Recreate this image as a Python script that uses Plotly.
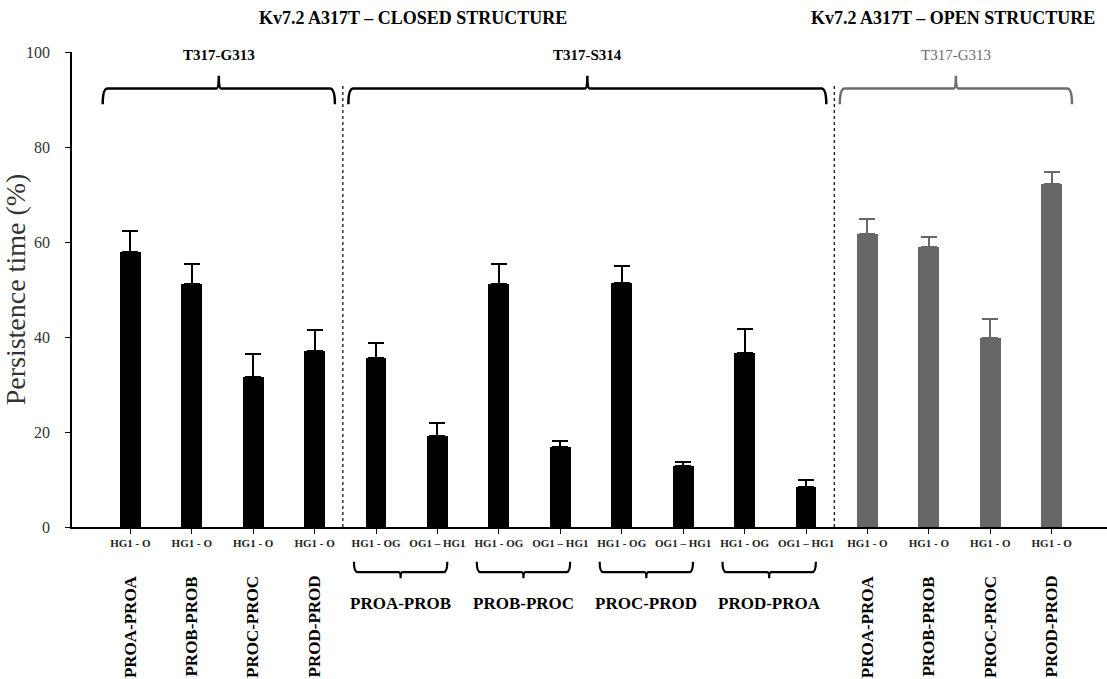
import numpy as np
import plotly.graph_objects as go

# ---------------- data ----------------
closed_g313_labels = ["PROA-PROA", "PROB-PROB", "PROC-PROC", "PROD-PROD"]
closed_g313_sub = ["HG1 - O", "HG1 - O", "HG1 - O", "HG1 - O"]
closed_g313_mean = [57.8, 51.2, 31.5, 37.0]
closed_g313_err = [4.5, 4.2, 4.9, 4.5]

s314_pairs = ["PROA-PROB", "PROB-PROC", "PROC-PROD", "PROD-PROA"]
s314_sub = ["HG1 - OG", "OG1 – HG1"]
s314_hg1_og_mean = [35.6, 51.2, 51.4, 36.6]
s314_hg1_og_err = [3.1, 4.2, 3.6, 5.1]
s314_og1_hg1_mean = [19.2, 16.9, 12.9, 8.5]
s314_og1_hg1_err = [2.6, 1.2, 0.8, 1.5]

open_g313_labels = ["PROA-PROA", "PROB-PROB", "PROC-PROC", "PROD-PROD"]
open_g313_sub = ["HG1 - O", "HG1 - O", "HG1 - O", "HG1 - O"]
open_g313_mean = [61.7, 58.9, 39.7, 72.2]
open_g313_err = [3.1, 2.2, 4.1, 2.5]

y_ticks = [0, 20, 40, 60, 80, 100]

# ---------------- positions ----------------
n1 = len(closed_g313_mean)
n2 = 2 * len(s314_pairs)
n3 = len(open_g313_mean)
x1 = np.arange(n1)
x2 = np.arange(n1, n1 + n2)
x3 = np.arange(n1 + n2, n1 + n2 + n3)

closed_x = np.concatenate([x1, x2])
closed_mean = list(closed_g313_mean)
closed_err = list(closed_g313_err)
s314_ticks = []
for a, b, ea, eb in zip(s314_hg1_og_mean, s314_og1_hg1_mean, s314_hg1_og_err, s314_og1_hg1_err):
    closed_mean += [a, b]
    closed_err += [ea, eb]
    s314_ticks += s314_sub

tickvals = list(np.concatenate([x1, x2, x3]))
ticktext = ["<b>%s</b>" % t for t in closed_g313_sub + s314_ticks + open_g313_sub]

SERIF = "Liberation Serif, Times New Roman, serif"
BLACK = "#000000"
GREY = "#676767"
GREY_T = "#6e6e6e"

fig = go.Figure()
fig.add_trace(go.Bar(
    x=closed_x, y=closed_mean, width=0.34,
    marker=dict(color=BLACK, line=dict(width=0)),
    error_y=dict(type="data", array=closed_err, arrayminus=[0] * len(closed_err),
                 symmetric=False, color=BLACK, thickness=2, width=8),
    showlegend=False,
))
fig.add_trace(go.Bar(
    x=x3, y=open_g313_mean, width=0.34,
    marker=dict(color=GREY, line=dict(width=0)),
    error_y=dict(type="data", array=open_g313_err, arrayminus=[0] * n3,
                 symmetric=False, color=GREY, thickness=2, width=8),
    showlegend=False,
))


def brace(x0, xend, yb, yh, yp, r):
    xc = (x0 + xend) / 2
    return (f"M{x0},{yb} Q{x0},{yh} {x0 + r},{yh} L{xc - r / 2},{yh} "
            f"Q{xc},{yh} {xc},{yp} Q{xc},{yh} {xc + r / 2},{yh} "
            f"L{xend - r},{yh} Q{xend},{yh} {xend},{yb}")


shapes = []
annotations = []

# top braces
top_groups = [(x1, "T317-G313", BLACK, True), (x2, "T317-S314", BLACK, True), (x3, "T317-G313", GREY_T, False)]
for xs, lab, col, bold in top_groups:
    a, b = xs[0] - 0.45, xs[-1] + 0.33
    shapes.append(dict(type="path", xref="x", yref="y",
                       path=brace(a, b, 89.0, 92.3, 95.0, 0.08),
                       line=dict(color=col, width=2.5)))
    annotations.append(dict(x=(a + b) / 2, y=99.3, xref="x", yref="y",
                            text=("<b>%s</b>" % lab) if bold else lab, showarrow=False,
                            font=dict(family=SERIF, size=15, color=col),
                            yanchor="middle", xanchor="center"))

# dashed separators
for xs_a, xs_b in [(x1, x2), (x2, x3)]:
    xm = (xs_a[-1] + xs_b[0]) / 2 - 0.04
    shapes.append(dict(type="line", xref="x", yref="y", x0=xm, x1=xm, y0=0, y1=93.5,
                       line=dict(color=BLACK, width=1.2, dash="dot")))

# titles
annotations.append(dict(x=4.6, y=1.0716, xref="x", yref="paper",
                        text="<b>Kv7.2 A317T – CLOSED STRUCTURE</b>", showarrow=False,
                        yanchor="middle", xanchor="center",
                        font=dict(family=SERIF, size=18, color=BLACK)))
annotations.append(dict(x=13.4, y=1.0716, xref="x", yref="paper",
                        text="<b>Kv7.2 A317T – OPEN STRUCTURE</b>", showarrow=False,
                        yanchor="middle", xanchor="center",
                        font=dict(family=SERIF, size=18, color=BLACK)))

# rotated bottom labels
for xs, labs in [(x1, closed_g313_labels), (x3, open_g313_labels)]:
    for xv, lab in zip(xs, labs):
        annotations.append(dict(x=xv, y=-0.21, xref="x", yref="paper", text="<b>%s</b>" % lab,
                                textangle=-90, showarrow=False, yanchor="middle", xanchor="center",
                                font=dict(family=SERIF, size=17, color=BLACK)))

# bottom braces + pair labels
for i, lab in enumerate(s314_pairs):
    c = (x2[2 * i] + x2[2 * i + 1]) / 2 - 0.1
    a, b = c - 0.76, c + 0.76
    shapes.append(dict(type="path", xref="x", yref="paper",
                       path=brace(a, b, -0.073, -0.095, -0.108, 0.06),
                       line=dict(color=BLACK, width=2.2)))
    annotations.append(dict(x=c, y=-0.162, xref="x", yref="paper", text="<b>%s</b>" % lab,
                            showarrow=False, yanchor="middle", xanchor="center",
                            font=dict(family=SERIF, size=17, color=BLACK)))

fig.update_layout(
    width=1107, height=679,
    margin=dict(l=72, r=0, t=52, b=152),
    paper_bgcolor="white", plot_bgcolor="white",
    shapes=shapes, annotations=annotations,
    bargap=0,
    xaxis=dict(range=[-0.95, 15.9], tickvals=tickvals, ticktext=ticktext,
               showline=True, linecolor=BLACK, linewidth=1.5, ticks="outside",
               ticklen=5, tickcolor=BLACK, tickwidth=1.2, showgrid=False, zeroline=False,
               tickangle=0,
               tickfont=dict(family=SERIF, size=11, color="#222")),
    yaxis=dict(range=[0, 100], tickvals=y_ticks, showline=True, linecolor=BLACK, linewidth=1.5,
               ticks="outside", ticklen=5, tickcolor=BLACK, tickwidth=1.2,
               ticklabelstandoff=12,
               showgrid=False, zeroline=False,
               tickfont=dict(family=SERIF, size=16, color="#333"),
               title=dict(text="Persistence time (%)", standoff=2,
                          font=dict(family=SERIF, size=28, color="#333"))),
)

fig.write_html("out.html")
